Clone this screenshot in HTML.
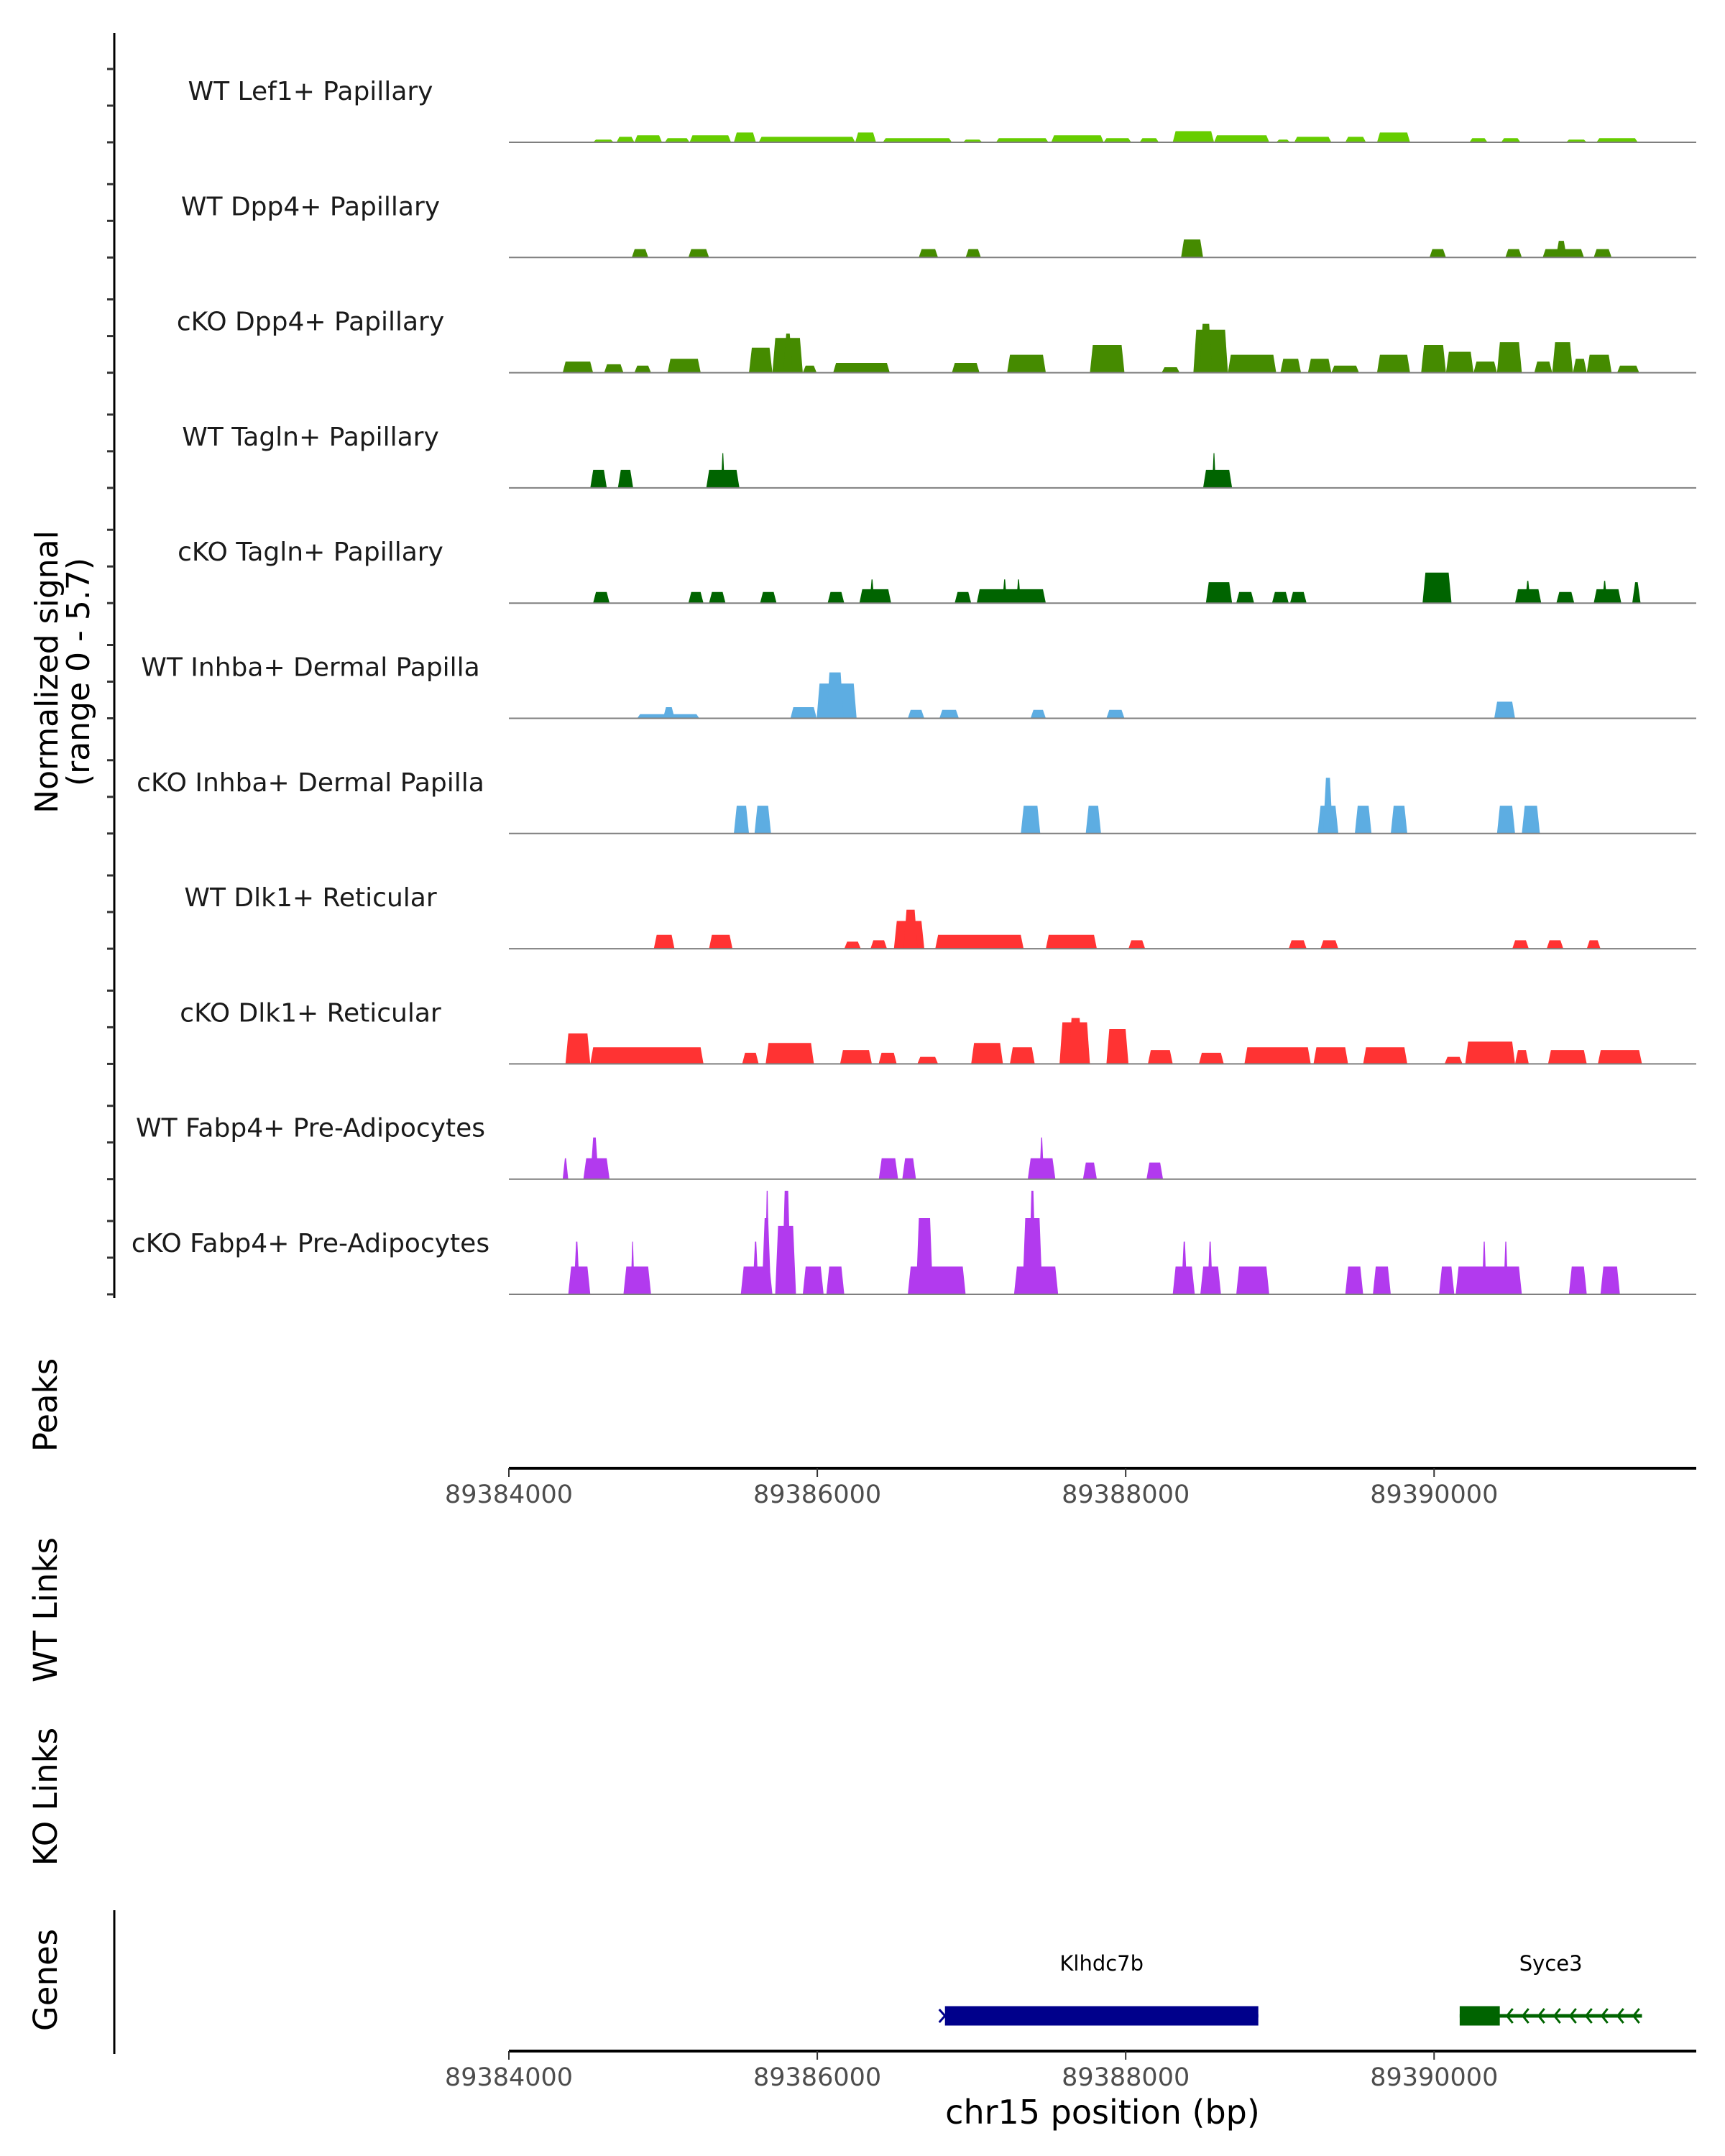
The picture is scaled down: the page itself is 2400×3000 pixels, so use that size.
<!DOCTYPE html>
<html><head><meta charset="utf-8"><style>
html,body{margin:0;padding:0;background:#fff}
svg{display:block;font-family:"DejaVu Sans","Liberation Sans",sans-serif}
</style></head><body>
<svg id="chart" width="2400" height="3000" viewBox="0 0 2400 3000" xmlns="http://www.w3.org/2000/svg">
<g>
<text x="80" y="935" font-size="44" text-anchor="middle" transform="rotate(-90 80 935)" fill="#000">Normalized signal</text>
<text x="124" y="935" font-size="44" text-anchor="middle" transform="rotate(-90 124 935)" fill="#000">(range 0 - 5.7)</text>
</g>
<line x1="159" y1="46" x2="159" y2="1806" stroke="#000" stroke-width="3"/>
<g id="tracks"></g>
<text x="79" y="1955" font-size="45" text-anchor="middle" transform="rotate(-90 79 1955)">Peaks</text>
<text x="79" y="2240" font-size="45" text-anchor="middle" transform="rotate(-90 79 2240)">WT Links</text>
<text x="79" y="2500" font-size="45" text-anchor="middle" transform="rotate(-90 79 2500)">KO Links</text>
<text x="79" y="2755" font-size="45" text-anchor="middle" transform="rotate(-90 79 2755)">Genes</text>
<line x1="159" y1="2658" x2="159" y2="2858" stroke="#000" stroke-width="3"/>
<g id="axes"></g>
<g id="genes"></g>
<text x="1534" y="2955" font-size="46" text-anchor="middle">chr15 position (bp)</text>
</svg>
<script>
const regionStart = 89384000;
const regionEnd = 89391700;
const tickValues = [89384000, 89386000, 89388000, 89390000];
const trackNames = ["WT Lef1+ Papillary","WT Dpp4+ Papillary","cKO Dpp4+ Papillary","WT Tagln+ Papillary","cKO Tagln+ Papillary","WT Inhba+ Dermal Papilla","cKO Inhba+ Dermal Papilla","WT Dlk1+ Reticular","cKO Dlk1+ Reticular","WT Fabp4+ Pre-Adipocytes","cKO Fabp4+ Pre-Adipocytes"];
const trackColors = ["#66CD00","#458B00","#458B00","#006400","#006400","#5DADE2","#5DADE2","#FF3333","#FF3333","#B23AEE","#B23AEE"];
// peaks: [start offset bp, end offset bp, signal]
const peaksWtLef1 = [[546,680,.14],[698,814,.28],[814,993,.36],[1011,1172,.21],[1172,1441,.36],[1459,1602,.5],[1620,2246,.28],[2246,2381,.5],[2425,2873,.21],[2945,3070,.14],[3159,3499,.21],[3517,3857,.36],[3857,4036,.21],[4090,4215,.21],[4305,4573,.57],[4573,4931,.36],[4976,5066,.14],[5093,5334,.28],[5424,5558,.28],[5630,5844,.5],[6229,6346,.21],[6435,6560,.21],[6856,6990,.14],[7053,7321,.21]];
const peaksWtDpp4 = [[797,904,.43],[1164,1298,.43],[2658,2783,.43],[2962,3061,.43],[4359,4502,.92],[5970,6077,.43],[6462,6569,.43],[6704,6972,.43],[6790,6860,.85],[7035,7151,.43]];
const peaksKoDpp4 = [[349,546,.57],[618,743,.43],[814,922,.36],[1029,1244,.71],[1557,1709,1.28],[1709,1906,1.78],[1780,1840,2.0],[1906,1996,.36],[2103,2470,.5],[2873,3052,.5],[3231,3482,.92],[3768,3992,1.42],[4233,4350,.28],[4439,4663,2.2],[4480,4560,2.5],[4663,4976,.92],[5003,5137,.71],[5182,5334,.71],[5334,5513,.36],[5630,5844,.92],[5916,6077,1.42],[6077,6256,1.07],[6256,6408,.57],[6408,6569,1.56],[6650,6766,.57],[6766,6900,1.56],[6900,6990,.71],[6990,7151,.92],[7187,7330,.36]];
const peaksWtTagln = [[528,635,.92],[707,806,.92],[1280,1495,.92],[1375,1400,1.78],[4502,4690,.92],[4560,4585,1.78]];
const peaksKoTagln = [[546,653,.57],[1164,1262,.57],[1298,1405,.57],[1629,1736,.57],[2067,2175,.57],[2273,2479,.71],[2340,2370,1.21],[2891,2998,.57],[3034,3482,.71],[3200,3230,1.21],[3290,3320,1.21],[4520,4690,1.07],[4717,4833,.57],[4949,5057,.57],[5066,5173,.57],[5925,6113,1.56],[6525,6695,.71],[6590,6625,1.14],[6793,6909,.57],[7035,7214,.71],[7090,7122,1.14],[7285,7339,1.07]];
const peaksWtInhba = [[832,1235,.21],[1000,1075,.57],[1826,1996,.57],[1996,2255,1.78],[2060,2170,2.35],[2587,2694,.43],[2792,2918,.43],[3383,3482,.43],[3875,3992,.43],[6390,6525,.85]];
const peaksKoInhba = [[1459,1557,1.42],[1593,1700,1.42],[3320,3446,1.42],[3741,3840,1.42],[5245,5379,1.42],[5280,5343,2.85],[5486,5594,1.42],[5719,5826,1.42],[6408,6525,1.42],[6569,6686,1.42]];
const peaksWtDlk1 = [[940,1074,.71],[1298,1450,.71],[2175,2282,.36],[2345,2452,.43],[2497,2694,1.42],[2560,2650,2.0],[2765,3338,.71],[3482,3813,.71],[4018,4126,.43],[5057,5173,.43],[5263,5379,.43],[6507,6614,.43],[6730,6838,.43],[6990,7079,.43]];
const peaksKoDlk1 = [[367,528,1.56],[528,1262,.85],[1513,1620,.57],[1665,1978,1.07],[2148,2354,.71],[2398,2515,.57],[2649,2783,.36],[2998,3204,1.07],[3249,3410,.85],[3571,3768,2.13],[3630,3720,2.35],[3875,4018,1.78],[4144,4305,.71],[4475,4636,.57],[4770,5200,.85],[5218,5442,.85],[5540,5826,.85],[6068,6184,.36],[6202,6525,1.14],[6525,6614,.71],[6739,6990,.71],[7062,7348,.71]];
const peaksWtFabp4 = [[349,385,1.07],[483,653,1.07],[528,582,2.13],[2399,2524,1.07],[2551,2640,1.07],[3365,3544,1.07],[3440,3470,2.13],[3723,3813,.85],[4135,4242,.85]];
const peaksKoFabp4 = [[385,528,1.42],[420,460,2.7],[743,922,1.42],[790,815,2.7],[1504,1709,1.42],[1580,1620,2.7],[1640,1700,3.9],[1660,1690,5.3],[1727,1862,3.5],[1770,1830,5.3],[1906,2041,1.42],[2059,2175,1.42],[2587,2962,1.42],[2640,2750,3.9],[3276,3562,1.42],[3330,3460,3.9],[3370,3420,5.3],[4305,4448,1.42],[4360,4400,2.7],[4484,4618,1.42],[4530,4565,2.7],[4717,4931,1.42],[5424,5540,1.42],[5603,5719,1.42],[6032,6131,1.42],[6140,6569,1.42],[6310,6340,2.7],[6450,6480,2.7],[6874,6990,1.42],[7079,7205,1.42]];
const trackPeaks = [peaksWtLef1,peaksWtDpp4,peaksKoDpp4,peaksWtTagln,peaksKoTagln,peaksWtInhba,peaksKoInhba,peaksWtDlk1,peaksKoDlk1,peaksWtFabp4,peaksKoFabp4];
const geneNames = ["Klhdc7b","Syce3"];
const geneStarts = [89386828, 89390166];
const geneEnds = [89388860, 89391348];
const geneThickEnds = [89388860, 89390426];

const NS = "http://www.w3.org/2000/svg";
const plotLeft = 708, plotRight = 2360;
function xScale(bp){ return plotLeft + (bp - regionStart) * (plotRight - plotLeft) / (regionEnd - regionStart); }
const baseline0 = 198, trackStep = 160.3, yMaxSignal = 5.7, trackH = 155;
function yScale(i, s){ return baseline0 + i*trackStep - s/yMaxSignal*trackH; }
function mk(tag, attrs, parent){ const e=document.createElementNS(NS,tag); for(const k in attrs) e.setAttribute(k,attrs[k]); parent.appendChild(e); return e; }

const tracksG = document.getElementById("tracks");
for(let i=0;i<trackNames.length;i++){
  const g = mk("g",{},tracksG);
  
  
  const base = yScale(i,0);
  for(let t=0;t<3;t++){
    const tk = mk("line",{x1:149,x2:159,y1:base-t*51,y2:base-t*51,stroke:"#333","stroke-width":3},g);
    
    
  }
  const lab = mk("text",{x:432,y:base-59,"font-size":36,"text-anchor":"middle",fill:"#1a1a1a"},g);
  lab.textContent = trackNames[i];
  
  
  for(const p of trackPeaks[i]){
    const x1 = xScale(regionStart+p[0]), x2 = xScale(regionStart+p[1]);
    const y = yScale(i,p[2]);
    const r = Math.min(4,(x2-x1)/2.5);
    const poly = mk("polygon",{points:`${x1},${base} ${x1+r},${y} ${x2-r},${y} ${x2},${base}`,fill:trackColors[i]},g);
    
    
  }
  const bl = mk("line",{x1:plotLeft,x2:plotRight,y1:base,y2:base,stroke:"#7f7f7f","stroke-width":2},g);
  
  
}

const axesG = document.getElementById("axes");
for(const ay of [2043, 2854]){
  const ax = mk("line",{x1:plotLeft,x2:plotRight,y1:ay,y2:ay,stroke:"#000","stroke-width":4},axesG);
  
  
  for(const tv of tickValues){
    const tx = xScale(tv);
    const tl = mk("line",{x1:tx,x2:tx,y1:ay,y2:ay+12,stroke:"#333","stroke-width":2},axesG);
    
    
    const tt = mk("text",{x:tx,y:ay+48,"font-size":35,"text-anchor":"middle",fill:"#4d4d4d"},axesG);
    tt.textContent = String(tv);
    
    
  }
}

const genesG = document.getElementById("genes");
const gColors = ["#00008B","#006400"];
const gy = 2805;
for(let i=0;i<geneNames.length;i++){
  const x1 = xScale(geneStarts[i]), x2 = xScale(geneEnds[i]), xt = xScale(geneThickEnds[i]);
  const g = mk("g",{},genesG);
  
  
  mk("line",{x1:x1,x2:x2,y1:gy,y2:gy,stroke:gColors[i],"stroke-width":5},g);
  mk("rect",{x:x1,y:gy-13.5,width:xt-x1,height:27,fill:gColors[i]},g);
  if(i===1){
    for(let cx=xt+10; cx<x2; cx+=22){
      mk("polyline",{points:`${cx+8},${gy-10} ${cx},${gy} ${cx+8},${gy+10}`,fill:"none",stroke:gColors[i],"stroke-width":3},g);
    }
  } else {
    mk("polyline",{points:`${x1-8},${gy-9} ${x1},${gy} ${x1-8},${gy+9}`,fill:"none",stroke:gColors[i],"stroke-width":3},g);
  }
  const t = mk("text",{x:(x1+x2)/2,y:2742,"font-size":29,"text-anchor":"middle",fill:"#000"},g);
  t.textContent = geneNames[i];
  
  
}
</script>
</body></html>
